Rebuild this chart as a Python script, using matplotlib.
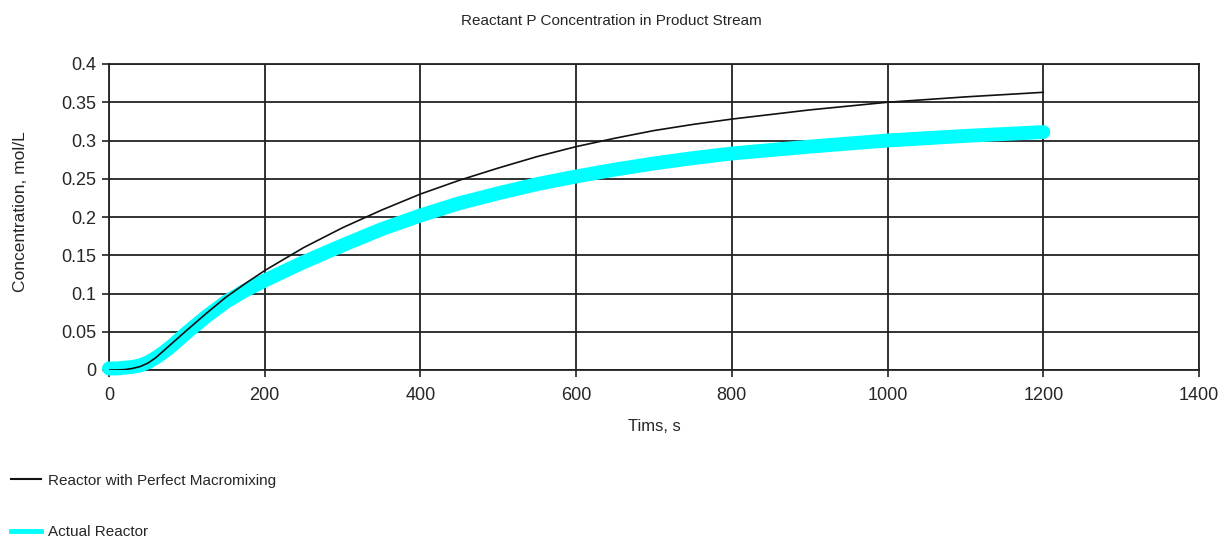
import matplotlib
matplotlib.use("Agg")
import matplotlib.pyplot as plt
from matplotlib import font_manager
from matplotlib.lines import Line2D

# Time points (s)
time_s = [0, 10, 20, 30, 40, 50, 60, 70, 80, 90, 100, 125, 150, 175, 200,
          250, 300, 350, 400, 450, 500, 550, 600, 650, 700, 750, 800, 900,
          1000, 1100, 1200]

# Reactant P concentration (mol/L)
perfect_macromixing = [0.0, 0.0, 0.0005, 0.002, 0.0045, 0.009, 0.016, 0.025,
                       0.034, 0.043, 0.052, 0.074, 0.095, 0.113, 0.130,
                       0.160, 0.186, 0.209, 0.230, 0.248, 0.264, 0.279,
                       0.292, 0.303, 0.313, 0.321, 0.328, 0.340, 0.350,
                       0.357, 0.363]
actual_reactor = [0.002, 0.002, 0.003, 0.004, 0.006, 0.010, 0.016, 0.023,
                  0.031, 0.040, 0.049, 0.070, 0.089, 0.104, 0.117,
                  0.141, 0.163, 0.184, 0.202, 0.218, 0.231, 0.243,
                  0.253, 0.262, 0.270, 0.277, 0.283, 0.292, 0.300,
                  0.306, 0.311]

x_ticks = [0, 200, 400, 600, 800, 1000, 1200, 1400]
y_ticks = [0, 0.05, 0.1, 0.15, 0.2, 0.25, 0.3, 0.35, 0.4]
y_tick_labels = ["0", "0.05", "0.1", "0.15", "0.2", "0.25", "0.3", "0.35", "0.4"]

available = {f.name for f in font_manager.fontManager.ttflist}
family = "Liberation Sans Narrow" if "Liberation Sans Narrow" in available else "Liberation Sans"
plt.rcParams["font.family"] = [family, "DejaVu Sans"]

text_color = "#262626"
line_dark = "#222222"

fig = plt.figure(figsize=(12.27, 5.40), dpi=100)
ax = fig.add_axes([109 / 1227, 1 - 370 / 540, 1090 / 1227, 306 / 540])

ax.plot(time_s, actual_reactor, color="#00ffff", lw=10,
        solid_capstyle="round", zorder=3, clip_on=False)
ax.plot(time_s, perfect_macromixing, color="#111111", lw=1.2, zorder=4)

ax.set_xlim(0, 1400)
ax.set_ylim(0, 0.4)
ax.set_xticks(x_ticks)
ax.set_yticks(y_ticks)
ax.set_yticklabels(y_tick_labels)
ax.grid(True, color=line_dark, lw=1.3, zorder=1)
ax.set_axisbelow(True)
ax.tick_params(direction="out", length=5, width=1.2, colors=line_dark,
               labelsize=13, labelcolor=text_color)
ax.tick_params(axis="x", pad=7)
ax.tick_params(axis="y", pad=4)
for spine in ax.spines.values():
    spine.set_color(line_dark)
    spine.set_linewidth(1.3)

ax.set_xlabel("Tims, s", fontsize=12, color=text_color)
ax.xaxis.set_label_coords(0.5, -0.16)
ax.set_ylabel("Concentration, mol/L", fontsize=12.5, color=text_color)
ax.yaxis.set_label_coords(-0.074, 0.518)
fig.text(611 / 1227, 1 - 21 / 540, "Reactant P Concentration in Product Stream",
         ha="center", va="center", fontsize=11, color=text_color)

handles = [Line2D([], [], color="#111111", lw=1.5),
           Line2D([], [], color="#00ffff", lw=3.5)]
labels = ["Reactor with Perfect Macromixing", "Actual Reactor"]
fig.legend(handles, labels, loc="lower left", bbox_to_anchor=(-3 / 1227, -0.0235),
           frameon=False, fontsize=11, handlelength=2.0, handletextpad=0.45,
           labelspacing=2.45, labelcolor=text_color)

fig.savefig("out.png", dpi=100)
